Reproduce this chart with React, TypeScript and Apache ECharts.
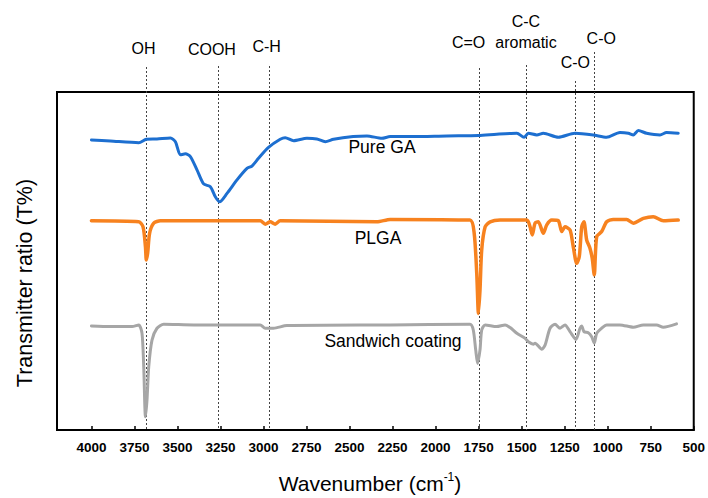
import React, { useEffect, useRef } from "react";
import * as echarts from "echarts";

// FTIR spectra: [wavenumber (cm-1), transmittance (offset, a.u.)]
const pureGA: [number, number][] = [
  [4000, 85.8], [3890, 85.5], [3725, 85.0], [3681, 86.0], [3619, 86.1], [3541, 86.4],
  [3512, 85.3], [3483, 81.4], [3454, 81.7], [3425, 80.9], [3386, 76.9], [3348, 72.8],
  [3309, 72.0], [3280, 69.0], [3255, 67.5], [3212, 70.0], [3154, 74.0], [3096, 77.4],
  [3067, 78.1], [3029, 80.4], [2971, 83.6], [2903, 86.0], [2874, 86.5], [2825, 85.6],
  [2748, 86.3], [2690, 86.1], [2641, 85.3], [2593, 86.0], [2479, 86.8], [2399, 87.0],
  [2312, 86.3], [2264, 86.8], [2129, 86.8], [1935, 87.0], [1751, 87.1], [1645, 87.5],
  [1528, 87.8], [1486, 86.6], [1461, 87.8], [1412, 87.3], [1374, 87.8], [1287, 86.6],
  [1190, 87.8], [1084, 87.3], [1006, 86.6], [929, 88.0], [880, 87.8], [851, 87.3],
  [822, 88.6], [774, 87.8], [696, 87.3], [658, 88.0], [590, 87.8],
];

const plga: [number, number][] = [
  [4000, 61.9], [3725, 61.6], [3700, 60.1], [3686, 54.2], [3681, 50.3], [3673, 52.4],
  [3662, 58.2], [3638, 61.2], [3599, 61.9], [3019, 61.9], [2990, 60.9], [2961, 61.6],
  [2932, 60.9], [2903, 61.9], [2341, 61.6], [2264, 62.3], [1800, 62.1], [1776, 58.3],
  [1761, 46.4], [1751, 34.5], [1742, 41.4], [1732, 53.3], [1712, 60.1], [1683, 61.6],
  [1625, 62.1], [1470, 62.1], [1451, 60.1], [1438, 57.7], [1422, 61.2], [1403, 61.6],
  [1374, 58.2], [1354, 60.7], [1325, 62.1], [1287, 61.9], [1267, 58.7], [1248, 60.1],
  [1219, 59.2], [1200, 54.2], [1180, 49.3], [1165, 51.3], [1151, 60.1], [1138, 61.6],
  [1122, 56.2], [1103, 53.8], [1090, 50.8], [1078, 45.9], [1064, 57.2], [1035, 58.7],
  [1006, 61.6], [968, 62.3], [890, 62.3], [851, 61.2], [793, 62.6], [735, 63.1],
  [677, 61.9], [590, 62.1],
];

const sandwichCoating: [number, number][] = [
  [4000, 30.8], [3890, 30.6], [3764, 30.6], [3725, 31.1], [3706, 28.6], [3696, 18.7],
  [3686, 3.9], [3677, 8.9], [3667, 18.7], [3648, 26.6], [3619, 30.1], [3580, 31.3],
  [3406, 31.1], [3019, 31.1], [2990, 30.1], [2942, 30.1], [2864, 30.9], [2264, 31.1],
  [1800, 31.3], [1781, 29.6], [1767, 23.7], [1756, 19.7], [1742, 23.7], [1732, 29.6],
  [1712, 31.1], [1645, 30.6], [1596, 31.1], [1567, 30.3], [1528, 28.6], [1480, 27.1],
  [1461, 26.1], [1432, 25.4], [1422, 25.7], [1383, 23.9], [1364, 25.1], [1335, 30.1],
  [1306, 31.3], [1277, 30.1], [1248, 31.1], [1219, 29.1], [1184, 26.8], [1161, 30.1],
  [1151, 30.8], [1138, 29.1], [1113, 28.8], [1093, 27.6], [1078, 25.7], [1064, 28.6],
  [1035, 30.1], [1006, 31.1], [929, 31.1], [851, 30.4], [793, 31.1], [716, 31.1],
  [677, 30.4], [600, 31.4],
];

const seriesNames = ["Pure GA", "PLGA", "Sandwich coating"];

// Assigned absorption bands
const bandLabels = ["OH", "COOH", "C-H", "C=O", "C-C\naromatic", "C-O", "C-O"];
const bandWavenumbers = [3680, 3265, 2970, 1750, 1475, 1188, 1078];

// Axis range and ticks
const X_MIN = 500;
const X_MAX = 4200;
const X_INTERVAL = 250;
const Y_MIN = 0;
const Y_MAX = 100;

// Annotation layout (pixels): label offset from its line, label centre y, dotted-line top
const bandLabelDx = [-3, -6, -2, -10, 0, 0, 7];
const bandLabelY = [48, 49, 46, 42, 32, 62, 38];
const bandLineTop = [67, 66, 66, 68, 65, 81, 52];

const FONT = "Liberation Sans, Arial, Helvetica, sans-serif";

export default function App() {
  const ref = useRef<HTMLDivElement>(null);

  useEffect(() => {
    if (!ref.current) return;
    const chart = echarts.init(ref.current, null, { renderer: "svg" });

    const mkSeries = (name: string, data: [number, number][], color: string, width: number) => ({
      name,
      type: "line",
      data,
      showSymbol: false,
      smooth: 0.25,
      lineStyle: { color, width, cap: "round", join: "round" },
      z: 3,
    });

    chart.setOption({
      animation: false,
      grid: {
        left: 57,
        right: 14,
        top: 92,
        bottom: 68,
        show: true,
        borderColor: "#000",
        borderWidth: 2,
        backgroundColor: "transparent",
      },
      xAxis: {
        type: "value",
        min: X_MIN,
        max: X_MAX,
        interval: X_INTERVAL,
        inverse: true,
        axisLine: { show: true, lineStyle: { color: "#000", width: 2 } },
        axisTick: { show: true, inside: true, length: 4, lineStyle: { color: "#000", width: 1.5 } },
        axisLabel: {
          margin: 10,
          color: "#000",
          fontFamily: FONT,
          fontWeight: "bold",
          fontSize: 13.5,
          formatter: (v: number) => (v % X_INTERVAL === 0 ? String(v) : ""),
        },
        splitLine: { show: false },
      },
      yAxis: {
        type: "value",
        min: Y_MIN,
        max: Y_MAX,
        axisLine: { show: false },
        axisTick: { show: false },
        axisLabel: { show: false },
        splitLine: { show: false },
      },
      series: [
        mkSeries(seriesNames[0], pureGA, "#1d6fd0", 3),
        mkSeries(seriesNames[1], plga, "#f7821f", 3.5),
        mkSeries(seriesNames[2], sandwichCoating, "#a6a6a6", 3),
      ],
    });

    const xPx = (w: number) => chart.convertToPixel({ xAxisIndex: 0 }, w) as number;
    const yBottom = chart.convertToPixel({ yAxisIndex: 0 }, Y_MIN) as number;

    const graphics: any[] = [];
    bandWavenumbers.forEach((w, i) => {
      const x = Math.round(xPx(w)) + 0.5;
      graphics.push({
        type: "line",
        z: 1,
        shape: { x1: x, y1: bandLineTop[i], x2: x, y2: yBottom },
        style: { stroke: "#444", lineWidth: 1, lineDash: [2, 2] },
      });
      graphics.push({
        type: "text",
        z: 5,
        x: xPx(w) + bandLabelDx[i],
        y: bandLabelY[i],
        style: {
          text: bandLabels[i],
          fontFamily: FONT,
          fontSize: 16,
          lineHeight: 21,
          fill: "#000",
          align: "center",
          verticalAlign: "middle",
        },
      });
    });

    // Curve names
    const nameStyle = { fontFamily: FONT, fontSize: 17.5, fill: "#000", align: "center", verticalAlign: "middle" };
    graphics.push({ type: "text", z: 5, x: 382, y: 147, style: { ...nameStyle, text: seriesNames[0] } });
    graphics.push({ type: "text", z: 5, x: 378, y: 238, style: { ...nameStyle, text: seriesNames[1] } });
    graphics.push({ type: "text", z: 5, x: 393, y: 341, style: { ...nameStyle, text: seriesNames[2] } });

    // Axis titles
    graphics.push({
      type: "text",
      z: 5,
      x: 25,
      y: 283,
      rotation: Math.PI / 2,
      style: {
        text: "Transmitter ratio (T%)",
        fontFamily: FONT,
        fontSize: 21.5,
        fill: "#000",
        align: "center",
        verticalAlign: "middle",
      },
    });
    graphics.push({
      type: "text",
      z: 5,
      x: 370,
      y: 483,
      style: {
        text: "{a|Wavenumber (cm}{s|-1}{a|)}",
        align: "center",
        verticalAlign: "middle",
        fill: "#000",
        rich: {
          a: { fontFamily: FONT, fontSize: 21, fill: "#000", lineHeight: 24 },
          s: { fontFamily: FONT, fontSize: 12, fill: "#000", verticalAlign: "top", lineHeight: 24, padding: [0, 0, 10, 0] },
        },
      },
    });

    chart.setOption({ graphic: { elements: graphics } });

    return () => chart.dispose();
  }, []);

  return <div ref={ref} style={{ width: 708, height: 498, position: "absolute", left: 0, top: 0 }} />;
}
